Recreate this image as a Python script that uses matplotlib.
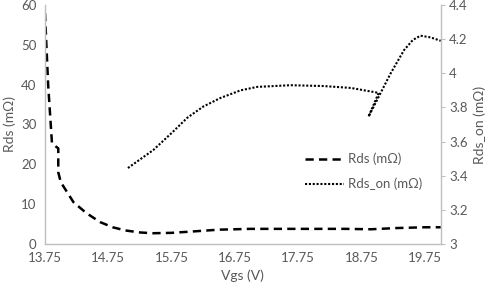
import matplotlib
matplotlib.use("Agg")
import matplotlib.pyplot as plt
from matplotlib.ticker import FormatStrFormatter, FuncFormatter

# =============================================================================
# Data
# =============================================================================

rds_vgs = [13.75, 13.80, 13.86, 13.91, 13.96, 13.96, 14.00, 14.20, 14.40,
           14.62, 14.82, 15.02, 15.25, 15.45, 15.75, 16.04, 16.50, 17.00,
           17.50, 18.00, 18.50, 18.90, 19.30, 19.75, 20.00]
rds_vals = [58.0, 40.0, 25.4, 24.6, 24.0, 18.0, 15.5, 10.5, 7.8,
            5.5, 4.2, 3.4, 2.9, 2.7, 2.8, 3.1, 3.6, 3.8,
            3.8, 3.8, 3.8, 3.7, 4.0, 4.2, 4.2]

rds_on_vgs = [15.06, 15.25, 15.46, 15.75, 16.00, 16.25, 16.52, 16.84, 17.10,
              17.63, 18.15, 18.58, 19.02, 18.86, 19.21, 19.42, 19.56, 19.68,
              19.84, 20.00]
rds_on_vals = [3.445, 3.495, 3.55, 3.65, 3.74, 3.805, 3.855, 3.90, 3.92,
               3.93, 3.925, 3.914, 3.885, 3.746, 4.0, 4.135, 4.195, 4.22,
               4.21, 4.19]

x_ticks = [13.75, 14.75, 15.75, 16.75, 17.75, 18.75, 19.75]
left_ticks = [0, 10, 20, 30, 40, 50, 60]
right_ticks = [3.0, 3.2, 3.4, 3.6, 3.8, 4.0, 4.2, 4.4]

# =============================================================================
# Style
# =============================================================================

plt.rcParams["font.family"] = ["Lato", "DejaVu Sans"]
TEXT_GREY = "#595959"
AXIS_GREY = "#bfbfbf"
FONT_SIZE = 9.5


def main():
    fig = plt.figure(figsize=(4.91, 2.91), dpi=100)
    ax = fig.add_axes([0.0916, 0.1615, 0.806, 0.8215])
    ax2 = ax.twinx()

    line_rds, = ax.plot(rds_vgs, rds_vals, color="black", lw=1.8,
                        dashes=(3.3, 2.1), dash_capstyle="butt",
                        label="Rds (mΩ)")
    line_on, = ax2.plot(rds_on_vgs, rds_on_vals, color="black", lw=1.5,
                        dashes=(1.0, 0.85), dash_capstyle="butt",
                        label="Rds_on (mΩ)")

    ax.set_xlim(13.75, 20.0)
    ax.set_ylim(0, 60)
    ax2.set_ylim(3.0, 4.4)
    ax.set_xticks(x_ticks)
    ax.set_yticks(left_ticks)
    ax2.set_yticks(right_ticks)
    ax.xaxis.set_major_formatter(FormatStrFormatter("%.2f"))
    ax2.yaxis.set_major_formatter(FuncFormatter(lambda v, _: f"{v:g}"))

    for a in (ax, ax2):
        for side in ("top",):
            a.spines[side].set_visible(False)
        for spine in a.spines.values():
            spine.set_color(AXIS_GREY)
            spine.set_linewidth(1.0)
    ax.spines["right"].set_visible(False)
    ax2.spines["left"].set_visible(False)
    ax2.spines["bottom"].set_visible(False)

    ax.tick_params(axis="both", length=0, labelsize=FONT_SIZE,
                   labelcolor=TEXT_GREY, pad=6)
    ax2.tick_params(axis="y", length=3, color=AXIS_GREY, labelsize=FONT_SIZE,
                    labelcolor=TEXT_GREY, pad=3)

    ax.set_xlabel("Vgs (V)", fontsize=FONT_SIZE + 0.5, color=TEXT_GREY,
                  labelpad=4)
    ax.set_ylabel("Rds (mΩ)", fontsize=FONT_SIZE + 0.5, color=TEXT_GREY,
                  labelpad=4)
    ax2.set_ylabel("Rds_on (mΩ)", fontsize=FONT_SIZE + 0.5, color=TEXT_GREY,
                   labelpad=4)

    leg = ax2.legend(handles=[line_rds, line_on], loc="upper left",
                     bbox_to_anchor=(0.64, 0.41), frameon=False,
                     fontsize=FONT_SIZE, handlelength=3.0,
                     handletextpad=0.3, labelspacing=0.95, borderpad=0)
    for text in leg.get_texts():
        text.set_color(TEXT_GREY)

    fig.savefig("out.png", dpi=100)


if __name__ == "__main__":
    main()
